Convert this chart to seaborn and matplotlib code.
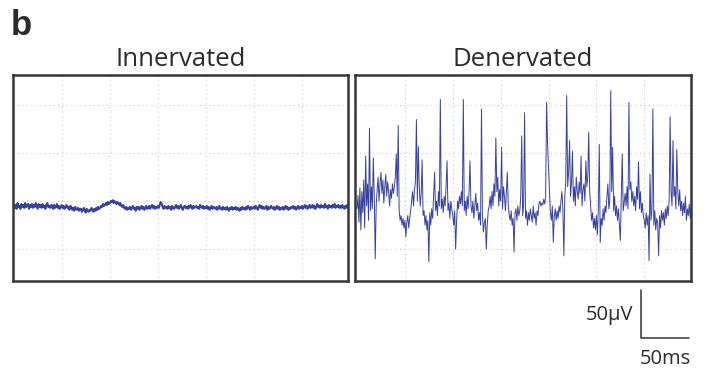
import numpy as np
import pandas as pd
import matplotlib
matplotlib.use("Agg")
import matplotlib.pyplot as plt
import seaborn as sns

# ---- Data (1 ms steps, values in uV) ----
panel_titles = ["Innervated", "Denervated"]
time_ms = list(range(350))

innervated_uV = [
    -3, -7, -4, -8, -2, -6, -5, -8, -3, -6,
    -4, -7, -2, -6, -5, -3, -8, -4, -6, -3,
    -7, -4, -6, -2, -5, -8, -3, -6, -4, -7,
    -3, -6, -5, -8, -4, -2, -6, -5, -7, -4,
    -5, -8, -4, -7, -6, -3, -7, -5, -8, -6,
    -4, -7, -5, -8, -6, -4, -7, -6, -9, -5,
    -6, -9, -7, -10, -6, -8, -9, -7, -10, -8,
    -8, -11, -9, -7, -10, -12, -8, -10, -11, -9,
    -10, -7, -9, -11, -8, -10, -7, -9, -6, -8,
    -7, -5, -6, -3, -5, -4, -2, -4, -1, -3,
    -2, 0, -1, 1, -2, 0, -1, -3, -1, -2,
    -4, -2, -5, -6, -4, -7, -8, -6, -9, -7,
    -8, -6, -9, -7, -5, -8, -7, -10, -6, -8,
    -6, -9, -7, -5, -8, -6, -9, -7, -5, -8,
    -7, -5, -8, -6, -4, -7, -5, -8, -6, -7,
    -5, -7, -4, -1, -3, -6, -8, -5, -7, -6,
    -8, -5, -7, -6, -9, -5, -7, -8, -6, -4,
    -7, -5, -8, -6, -4, -7, -9, -6, -5, -7,
    -6, -8, -5, -7, -4, -6, -8, -5, -7, -6,
    -5, -7, -6, -8, -4, -6, -7, -5, -8, -6,
    -7, -5, -8, -6, -9, -7, -5, -8, -6, -7,
    -8, -6, -9, -7, -5, -8, -7, -9, -6, -8,
    -7, -9, -6, -8, -10, -7, -8, -6, -9, -7,
    -8, -6, -9, -7, -8, -10, -7, -9, -6, -8,
    -7, -9, -6, -8, -5, -7, -9, -6, -8, -7,
    -6, -8, -5, -7, -9, -6, -4, -7, -5, -8,
    -6, -8, -7, -5, -9, -6, -8, -7, -5, -7,
    -8, -6, -9, -7, -5, -8, -6, -9, -7, -8,
    -6, -9, -7, -5, -8, -6, -9, -7, -8, -6,
    -7, -5, -8, -6, -9, -7, -5, -8, -6, -7,
    -5, -8, -6, -4, -7, -5, -8, -6, -4, -7,
    -6, -4, -7, -5, -8, -6, -3, -6, -5, -7,
    -4, -6, -5, -7, -3, -6, -5, -8, -4, -6,
    -5, -7, -4, -6, -3, -7, -5, -6, -4, -7,
    -5, -7, -4, -6, -8, -5, -7, -4, -6, -5,
]

denervated_uV = [
    -8, 6, -22, 14, -30, 10, -12, 22, -28, 47,
    -5, 18, -20, 76, -10, 15, -8, 45, 5, -60,
    -5, 12, 25, 0, 18, 30, 8, 22, -2, 15,
    28, 5, 20, 10, -5, 12, 3, 18, 8, 15,
    25, 49, 5, 79, -10, -20, -15, -25, -18, -28,
    -20, -37, -22, -15, -28, -18, -10, 0, 10, -5,
    12, 20, 85, 0, 57, 15, -5, 8, 43, -15,
    -10, -25, -15, -30, -20, -63, -12, -25, -8, -18,
    5, 30, -10, 0, -15, 10, -5, 106, -8, 2,
    -12, 5, -5, 15, 42, -10, -2, -18, 0, -8,
    -15, -25, -10, -50, -20, 0, -8, 5, -3, 10,
    -5, 106, -10, 0, -15, 5, -8, 10, 42, -5,
    -12, 0, -18, -5, 8, -10, -2, -20, -12, -25,
    96, -15, -32, -22, -18, -50, -25, -10, -5, 5,
    -8, 10, -5, 18, 5, 66, 10, 25, -5, 12,
    0, 56, -8, 15, 5, -10, 10, 30, -5, -15,
    -20, -10, -25, -18, -53, -12, -8, -20, -5, -15,
    -10, 5, 68, -15, -5, 92, -18, -10, -25, -12,
    -20, -8, -15, -22, -5, -18, -12, -25, -10, -15,
    -3, 0, -5, -2, -4, 2, -3, 5, 103, 60,
    35, 10, -12, -20, -5, -43, -15, -8, -20, -10,
    -18, -5, -12, 0, 10, -8, -57, 5, 20, 110,
    15, 30, 63, 5, 20, 52, 0, 15, -5, 25,
    10, 2, 20, 8, 47, -5, 12, 18, 0, 42,
    15, 25, 72, 10, -5, -20, -12, -28, -18, -30,
    -15, -35, -10, 59, -43, -18, -25, -8, -20, -5,
    -12, 5, 18, -8, 0, 115, 10, 56, -10, 5,
    -15, -5, -20, -8, -25, -41, 5, 49, -10, -2,
    8, -5, 15, -8, 103, 12, 20, 0, 10, -5,
    5, -10, 15, 2, 41, -8, 10, -12, -2, -15,
    -20, -28, -12, -25, -15, -62, 28, -20, -10, 96,
    -25, -10, -30, -18, -22, -57, -15, -28, -10, -20,
    -12, -25, -8, -18, -5, -15, 0, 88, 10, -5,
    63, 5, 15, -8, 54, 10, -5, 12, -10, 0,
    -15, -2, -12, 5, -20, -8, -15, -3, -18, -8,
]

# scale bar (50 ms x 50 uV), drawn in the right panel's data units
bar_ms = 50
bar_uV = 50

df = pd.DataFrame({"t": time_ms, "Innervated": innervated_uV, "Denervated": denervated_uV})

sns.set_style("white")
plt.rcParams["font.family"] = ["Open Sans", "DejaVu Sans"]

trace_color = "#38429a"
frame_color = "#363636"
text_color = "#2b2b2b"

fig = plt.figure(figsize=(7.06, 3.76), dpi=100)
ax_l = fig.add_axes([0.018, 0.253, 0.475, 0.548])
ax_r = fig.add_axes([0.503, 0.253, 0.476, 0.548])

for ax, name, lw, xl in [(ax_l, "Innervated", 1.5, (-1, 348)), (ax_r, "Denervated", 0.7, (-2, 349))]:
    sns.lineplot(data=df, x="t", y=name, ax=ax, color=trace_color, linewidth=lw)
    ax.set_xlim(*xl)
    ax.set_ylim(-83, 131.5)
    ax.set_xticks([50, 100, 150, 200, 250, 300])
    ax.set_yticks([-50, 0, 50, 100])
    ax.set_xticklabels([])
    ax.set_yticklabels([])
    ax.tick_params(length=0)
    ax.set_xlabel("")
    ax.set_ylabel("")
    ax.grid(True, linestyle=(0, (1, 3)), color="#c8c8c8", linewidth=0.8)
    for sp in ax.spines.values():
        sp.set_visible(True)
        sp.set_color(frame_color)
        sp.set_linewidth(1.8)
    ax.set_title(name, fontsize=18.5, color=text_color, pad=6)

# panel letter
fig.text(0.015, 0.975, "b", fontsize=25, fontweight="bold", family="Liberation Sans",
         color=text_color, ha="left", va="top")

# scale bar below the right panel
x0, y0 = 297, -142
ax_r.plot([x0, x0, x0 + bar_ms], [y0 + bar_uV, y0, y0], color=frame_color,
          linewidth=1.1, clip_on=False)
ax_r.text(x0 - 8, y0 + bar_uV * 0.47, "50µV", fontsize=14.5, color=text_color,
          ha="right", va="center", clip_on=False)
ax_r.text(x0 + bar_ms / 2, y0 - 22, "50ms", fontsize=14.5, color=text_color,
          ha="center", va="center", clip_on=False)

fig.savefig("out.png", dpi=100)
